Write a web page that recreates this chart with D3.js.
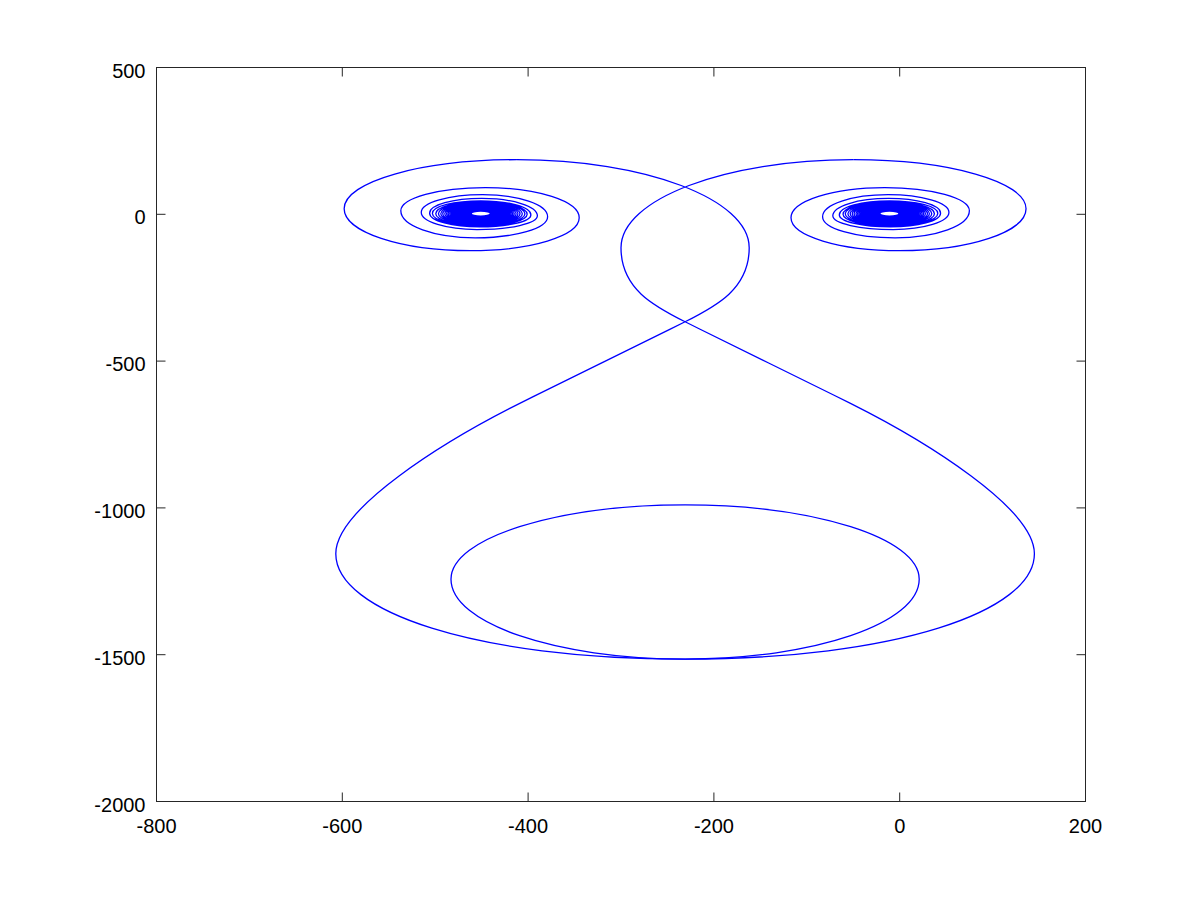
<!DOCTYPE html>
<html><head><meta charset="utf-8">
<script src="https://cdn.jsdelivr.net/npm/d3@7"></script>
<style>body{margin:0;background:#fff}</style>
</head><body>
<svg id="chart" width="1200" height="900"></svg>
<script>
// ---------- data ----------
const xDomain = [-800, 200];
const yDomain = [-2000, 500];
const xTicks = [-800, -600, -400, -200, 0, 200];
const yTicks = [-2000, -1500, -1000, -500, 0, 500];

// Left eye spiral: extreme points of each turn, outermost first
const leftEyeTop = [[-412,186],[-446,91],[-449,67],[-450,54],[-451,46],
 [-451,43.0],[-451,40.9],[-451,38.7],[-451,36.7],[-451,34.9],[-451,33.3],[-451,31.7],[-451,30.3],[-451,29.0],[-451,27.8],
 [-451,26.6],[-451,25.5],[-451,24.5],[-451,23.5],[-451,22.5],[-451,21.5],[-451,20.6],[-451,19.8],[-451,19.0],[-451,18.2],
 [-451,17.4],[-451,16.7],[-451,16.0],[-451,15.4],[-451,14.8],[-451,14.1],[-451,13.6],[-451,13.0],[-451,12.5],[-451,12.0],
 [-451,11.5],[-451,11.1],[-451,10.6]];
const leftEyeLeft = [[-598,19],[-537,12],[-515,7],[-506,4],[-503,3],
 [-499.4,2],[-496.5,2],[-494,2],[-491.9,2],[-489.7,2],[-487.8,2],[-486.1,2],[-484.4,2],[-482.9,2],[-481.5,2],
 [-480.1,2],[-478.9,2],[-477.6,2],[-476.4,2],[-475.2,2],[-474.1,2],[-473,2],[-472.1,2],[-471.1,2],[-470.1,2],
 [-469.3,2],[-468.4,2],[-467.6,2],[-466.8,2],[-466.1,2],[-465.3,2],[-464.7,2],[-464,2],[-463.4,2],[-462.8,2],
 [-462.3,2],[-461.8,2],[-461.2,2]];
const leftEyeBottom = [[-462,-124],[-457,-80],[-455,-52],[-452,-43],[-451,-40],
 [-451,-38.1],[-451,-35.7],[-451,-33.6],[-451,-31.8],[-451,-30.1],[-451,-28.4],[-451,-27.0],[-451,-25.6],[-451,-24.4],[-451,-23.2],
 [-451,-22.0],[-451,-21.0],[-451,-20.0],[-451,-19.0],[-451,-18.0],[-451,-17.1],[-451,-16.2],[-451,-15.4],[-451,-14.6],[-451,-13.8],
 [-451,-13.1],[-451,-12.4],[-451,-11.7],[-451,-11.1],[-451,-10.4],[-451,-9.8],[-451,-9.3],[-451,-8.7],[-451,-8.3],[-451,-7.7],
 [-451,-7.3],[-451,-6.9],[-451,-6.4]];
const leftEyeRight = [[-345,-12],[-379,-8],[-390,-5],[-397,-2],[-401,0],
 [-403.4,2],[-406.2,2],[-408.7,2],[-410.9,2],[-412.9,2],[-414.9,2],[-416.6,2],[-418.2,2],[-419.7,2],[-421.1,2],
 [-422.5,2],[-423.8,2],[-425,2],[-426.2,2],[-427.3,2],[-428.4,2],[-429.5,2],[-430.5,2],[-431.4,2],[-432.3,2],
 [-433.1,2],[-434,2],[-434.8,2],[-435.5,2],[-436.3,2],[-437,2],[-437.7,2],[-438.3,2],[-438.8,2],[-439.5,2],
 [-440,2],[-440.5,2],[-441,2]];

// Right eye spiral (mirror image), outermost first
const rightEyeTop = [[-50,186],[-16,91],[-12.5,67],[-12,54],[-11,46],
 [-11,43.0],[-11,40.9],[-11,38.7],[-11,36.7],[-11,34.9],[-11,33.3],[-11,31.7],[-11,30.3],[-11,29.0],[-11,27.8],
 [-11,26.6],[-11,25.5],[-11,24.5],[-11,23.5],[-11,22.5],[-11,21.5],[-11,20.6],[-11,19.8],[-11,19.0],[-11,18.2],
 [-11,17.4],[-11,16.7],[-11,16.0],[-11,15.4],[-11,14.8],[-11,14.1],[-11,13.6],[-11,13.0],[-11,12.5],[-11,12.0],
 [-11,11.5],[-11,11.1],[-11,10.6]];
const rightEyeRight = [[136,19],[75,12],[53,7],[44,4],[41,3],
 [37.4,2],[34.5,2],[32.0,2],[29.9,2],[27.7,2],[25.8,2],[24.1,2],[22.4,2],[20.9,2],[19.5,2],
 [18.1,2],[16.9,2],[15.6,2],[14.4,2],[13.2,2],[12.1,2],[11.0,2],[10.1,2],[9.1,2],[8.1,2],
 [7.3,2],[6.4,2],[5.6,2],[4.8,2],[4.1,2],[3.3,2],[2.7,2],[2.0,2],[1.4,2],[0.8,2],
 [0.3,2],[-0.2,2],[-0.8,2]];
const rightEyeBottom = [[0,-124],[-5,-80],[-7,-52],[-10,-43],[-11,-40],
 [-11,-38.1],[-11,-35.7],[-11,-33.6],[-11,-31.8],[-11,-30.1],[-11,-28.4],[-11,-27.0],[-11,-25.6],[-11,-24.4],[-11,-23.2],
 [-11,-22.0],[-11,-21.0],[-11,-20.0],[-11,-19.0],[-11,-18.0],[-11,-17.1],[-11,-16.2],[-11,-15.4],[-11,-14.6],[-11,-13.8],
 [-11,-13.1],[-11,-12.4],[-11,-11.7],[-11,-11.1],[-11,-10.4],[-11,-9.8],[-11,-9.3],[-11,-8.7],[-11,-8.3],[-11,-7.7],
 [-11,-7.3],[-11,-6.9],[-11,-6.4]];
const rightEyeLeft = [[-117,-12],[-83,-8],[-72,-5],[-65,-2],[-61,0],
 [-58.6,2],[-55.8,2],[-53.3,2],[-51.1,2],[-49.1,2],[-47.1,2],[-45.4,2],[-43.8,2],[-42.3,2],[-40.9,2],
 [-39.5,2],[-38.2,2],[-37.0,2],[-35.8,2],[-34.7,2],[-33.6,2],[-32.5,2],[-31.5,2],[-30.6,2],[-29.7,2],
 [-28.9,2],[-28.0,2],[-27.2,2],[-26.5,2],[-25.7,2],[-25.0,2],[-24.3,2],[-23.7,2],[-23.2,2],[-22.5,2],
 [-22.0,2],[-21.5,2],[-21.0,2]];

// Middle part: nodes [x, y, tangentX, tangentY] (tangent in data units),
// from top of left eye, through the figure-eight and big lower loop, to top of right eye
const middleNodes = [
 [-412, 186, 1, 0],
 [-162, -114, 0, -1],
 [-231, -366, -0.962, -1.525],
 [-409, -644, -0.962, -1.525],
 [-607, -1156, 0, -1],
 [-231, -1515, 1, 0],
 [145, -1156, 0, 1],
 [-53, -644, -0.962, 1.525],
 [-231, -366, -0.962, 1.525],
 [-300, -114, 0, 1],
 [-50, 186, 1, 0]
];

// Bottom ellipse extremes: top, left, bottom, right
const bottomEllipse = [[-231,-990],[-483,-1243],[-231,-1515],[21,-1243]];

// ---------- drawing ----------
const svg = d3.select('#chart');
const x = d3.scaleLinear().domain(xDomain).range([156.5, 1085.5]);
const y = d3.scaleLinear().domain(yDomain).range([801.5, 67.5]);
const axisColor = '#262626';
const lineColor = '#0000ff';
const lineWidth = 1.3;
const K = 0.5523;
// handle factors (incoming / outgoing) for axis-aligned nodes of the middle curve
const handleIn  = [K, K, null, null, 0.3, 0.6, 0.55, null, null, K, K];
const handleOut = [K, K, null, null, 0.55, 0.6, 0.3, null, null, K, K];

function extremePath(pts, closed) {
  const P = pts.map(d => [x(d[0]), y(d[1])]);
  const p = d3.path();
  p.moveTo(P[0][0], P[0][1]);
  const n = closed ? P.length : P.length - 1;
  for (let i = 0; i < n; i++) {
    const a = P[i], b = P[(i + 1) % P.length];
    let c1, c2;
    if (i % 2 === 0) {
      c1 = [a[0] + K * (b[0] - a[0]), a[1]];
      c2 = [b[0], b[1] + K * (a[1] - b[1])];
    } else {
      c1 = [a[0], a[1] + K * (b[1] - a[1])];
      c2 = [b[0] + K * (a[0] - b[0]), b[1]];
    }
    p.bezierCurveTo(c1[0], c1[1], c2[0], c2[1], b[0], b[1]);
  }
  if (closed) p.closePath();
  return p.toString();
}
function spiralPoints(top, side1, bottom, side2) {
  const out = [];
  for (let k = 0; k < top.length; k++) out.push(top[k], side1[k], bottom[k], side2[k]);
  return out;
}
function nodePath(nodes) {
  const sx = x(1) - x(0), sy = y(0) - y(1);
  const P = nodes.map(n => [x(n[0]), y(n[1])]);
  const T = nodes.map(n => { const dx = n[2] * sx, dy = -n[3] * sy, l = Math.hypot(dx, dy); return [dx / l, dy / l]; });
  const p = d3.path();
  p.moveTo(P[0][0], P[0][1]);
  for (let i = 0; i < P.length - 1; i++) {
    const a = P[i], b = P[i + 1], ta = T[i], tb = T[i + 1];
    const chord = Math.hypot(b[0] - a[0], b[1] - a[1]);
    const th = Math.acos(Math.max(-1, Math.min(1, ta[0] * tb[0] + ta[1] * tb[1])));
    const c = th < 1e-3 ? 1 / 3 : (4 / 3) * Math.tan(th / 4) / (2 * Math.sin(th / 2));
    const hl = (t, f) => Math.abs(t[1]) < 1e-6 ? f * Math.abs(b[0] - a[0])
                       : Math.abs(t[0]) < 1e-6 ? f * Math.abs(b[1] - a[1]) : c * chord;
    const ha = hl(ta, handleOut[i]), hb = hl(tb, handleIn[i + 1]);
    p.bezierCurveTo(a[0] + ha * ta[0], a[1] + ha * ta[1], b[0] - hb * tb[0], b[1] - hb * tb[1], b[0], b[1]);
  }
  return p.toString();
}

const plot = svg.append('g').attr('fill', 'none').attr('stroke', lineColor).attr('stroke-width', lineWidth);
plot.append('path').attr('d', extremePath(spiralPoints(leftEyeTop, leftEyeLeft, leftEyeBottom, leftEyeRight), false));
plot.append('path').attr('d', extremePath(spiralPoints(rightEyeTop, rightEyeRight, rightEyeBottom, rightEyeLeft), false));
plot.append('path').attr('d', nodePath(middleNodes));
plot.append('path').attr('d', extremePath(bottomEllipse, true));

// axes box
const x0 = x(xDomain[0]), x1 = x(xDomain[1]), y0 = y(yDomain[0]), y1 = y(yDomain[1]);
const ax = svg.append('g');
ax.append('rect').attr('x', x0).attr('y', y1).attr('width', x1 - x0).attr('height', y0 - y1)
  .attr('fill', 'none').attr('stroke', axisColor).attr('stroke-width', 1);
const tickLen = 9;
const font = 'Liberation Sans, Arial, sans-serif';
xTicks.forEach(t => {
  ax.append('line').attr('x1', x(t)).attr('x2', x(t)).attr('y1', y0).attr('y2', y0 - tickLen).attr('stroke', axisColor);
  ax.append('line').attr('x1', x(t)).attr('x2', x(t)).attr('y1', y1).attr('y2', y1 + tickLen).attr('stroke', axisColor);
  ax.append('text').attr('x', x(t)).attr('y', y0 + 31).attr('text-anchor', 'middle')
    .attr('font-family', font).attr('font-size', 20).attr('fill', '#000').text(t);
});
yTicks.forEach(t => {
  ax.append('line').attr('x1', x0).attr('x2', x0 + tickLen).attr('y1', y(t)).attr('y2', y(t)).attr('stroke', axisColor);
  ax.append('line').attr('x1', x1).attr('x2', x1 - tickLen).attr('y1', y(t)).attr('y2', y(t)).attr('stroke', axisColor);
  ax.append('text').attr('x', x0 - 11).attr('y', y(t) + 10).attr('text-anchor', 'end')
    .attr('font-family', font).attr('font-size', 20).attr('fill', '#000').text(t);
});
</script>
</body></html>
